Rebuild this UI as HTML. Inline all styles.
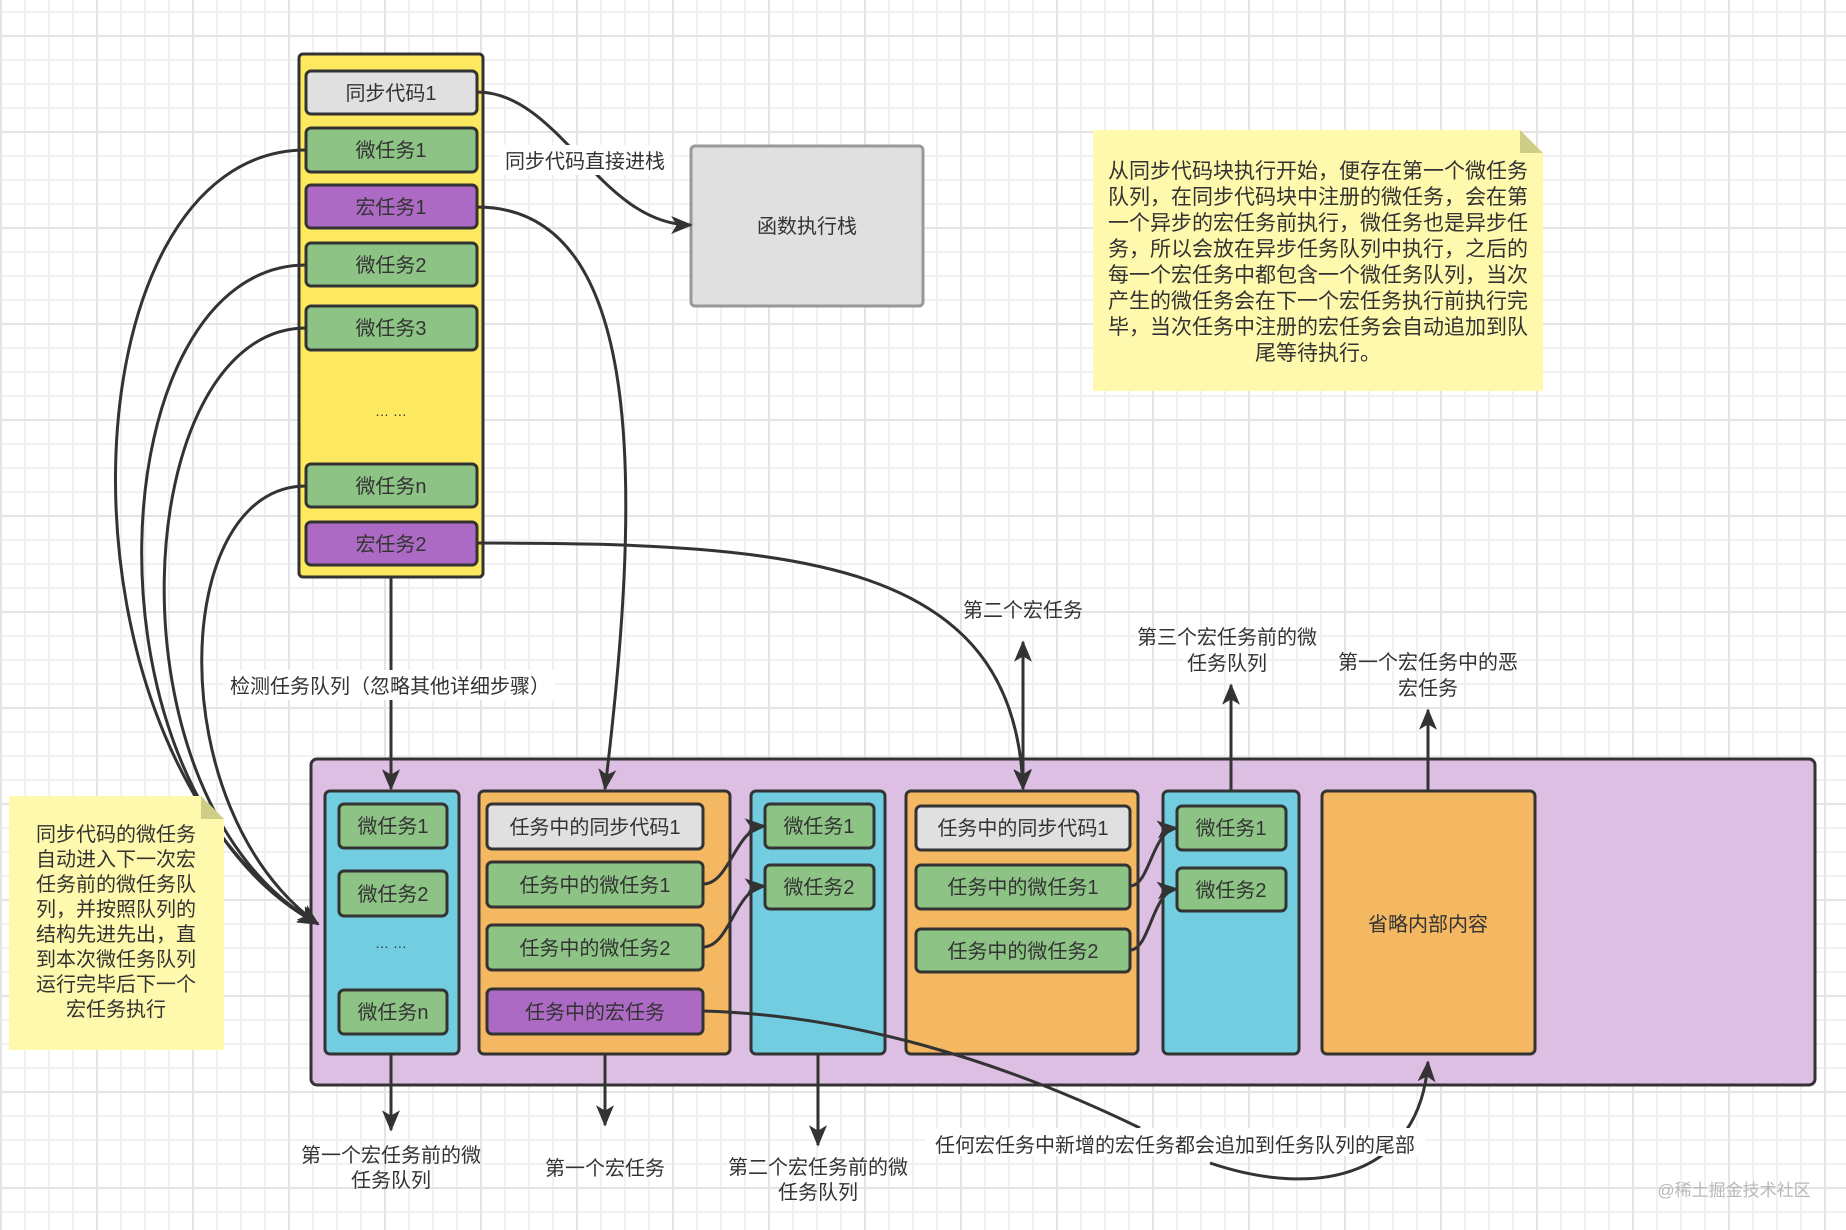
<!DOCTYPE html>
<html><head><meta charset="utf-8"><style>
html,body{margin:0;padding:0;}
body{width:1846px;height:1230px;overflow:hidden;background:#fff;
background-image:
linear-gradient(to right,#e4e4e4 2px,transparent 2px),
linear-gradient(to bottom,#e4e4e4 2px,transparent 2px),
linear-gradient(to right,#f1f1f1 2px,transparent 2px),
linear-gradient(to bottom,#f1f1f1 2px,transparent 2px);
background-size:96px 96px,96px 96px,24px 24px,24px 24px;
background-position:0px 0px,0px 35px,0px 0px,0px 11px;}
svg{position:absolute;left:0;top:0;}
text{font-family:"Liberation Sans","Noto Sans CJK SC",sans-serif;fill:#333;}
</style></head><body>
<svg width="1846" height="1230" viewBox="0 0 1846 1230">
<defs>
<marker id="ar" viewBox="0 0 12 10" refX="11" refY="5" markerWidth="22" markerHeight="18" orient="auto-start-reverse" markerUnits="userSpaceOnUse"><path d="M0,0 L12,5 L0,10 L3,5 Z" fill="#333"/></marker>
</defs>
<!-- yellow container -->
<rect x="299" y="54" width="184" height="523" rx="4" fill="#fde95f" stroke="#333" stroke-width="3"/>
<g stroke="#333" stroke-width="3">
<rect x="306" y="71" width="171" height="43" rx="5" fill="#e0e0e0"/>
<rect x="306" y="128" width="171" height="44" rx="5" fill="#8dc486"/>
<rect x="306" y="185" width="171" height="43" rx="5" fill="#ad6ac4"/>
<rect x="306" y="243" width="171" height="43" rx="5" fill="#8dc486"/>
<rect x="306" y="306" width="171" height="44" rx="5" fill="#8dc486"/>
<rect x="306" y="464" width="171" height="43" rx="5" fill="#8dc486"/>
<rect x="306" y="522" width="171" height="43" rx="5" fill="#ad6ac4"/>
</g>
<g font-size="20" text-anchor="middle">
<text x="391" y="100">同步代码1</text>
<text x="391" y="157">微任务1</text>
<text x="391" y="214">宏任务1</text>
<text x="391" y="272">微任务2</text>
<text x="391" y="335">微任务3</text>
<text x="391" y="416" font-size="14">… …</text>
<text x="391" y="493">微任务n</text>
<text x="391" y="551">宏任务2</text>
</g>
<!-- function stack -->
<rect x="691" y="146" width="232" height="160" rx="4" fill="#e0e0e0" stroke="#999" stroke-width="3"/>
<text x="807" y="233" font-size="20" text-anchor="middle">函数执行栈</text>
<!-- big purple -->
<rect x="311" y="759" width="1504" height="326" rx="6" fill="#dcbfe3" stroke="#333" stroke-width="3"/>
<g stroke="#333" stroke-width="3">
<rect x="325" y="791" width="134" height="263" rx="5" fill="#71cddf"/>
<rect x="479" y="791" width="251" height="263" rx="5" fill="#f4b862"/>
<rect x="751" y="791" width="134" height="263" rx="5" fill="#71cddf"/>
<rect x="906" y="791" width="232" height="263" rx="5" fill="#f4b862"/>
<rect x="1163" y="791" width="136" height="263" rx="5" fill="#71cddf"/>
<rect x="1322" y="791" width="213" height="263" rx="5" fill="#f4b862"/>
<rect x="339" y="804" width="108" height="44" rx="5" fill="#8dc486"/>
<rect x="339" y="871" width="108" height="45" rx="5" fill="#8dc486"/>
<rect x="339" y="990" width="108" height="44" rx="5" fill="#8dc486"/>
<rect x="487" y="804" width="216" height="45" rx="5" fill="#e0e0e0"/>
<rect x="487" y="862" width="216" height="45" rx="5" fill="#8dc486"/>
<rect x="487" y="925" width="216" height="45" rx="5" fill="#8dc486"/>
<rect x="487" y="989" width="216" height="45" rx="5" fill="#ad6ac4"/>
<rect x="765" y="804" width="109" height="44" rx="5" fill="#8dc486"/>
<rect x="765" y="865" width="109" height="44" rx="5" fill="#8dc486"/>
<rect x="916" y="806" width="214" height="44" rx="5" fill="#e0e0e0"/>
<rect x="916" y="865" width="214" height="44" rx="5" fill="#8dc486"/>
<rect x="916" y="929" width="214" height="43" rx="5" fill="#8dc486"/>
<rect x="1177" y="806" width="109" height="44" rx="5" fill="#8dc486"/>
<rect x="1177" y="868" width="109" height="43" rx="5" fill="#8dc486"/>
</g>
<g font-size="20" text-anchor="middle">
<text x="393" y="833">微任务1</text>
<text x="393" y="901">微任务2</text>
<text x="391" y="948" font-size="14">… …</text>
<text x="393" y="1019">微任务n</text>
<text x="595" y="834">任务中的同步代码1</text>
<text x="595" y="892">任务中的微任务1</text>
<text x="595" y="955">任务中的微任务2</text>
<text x="595" y="1019">任务中的宏任务</text>
<text x="819" y="833">微任务1</text>
<text x="819" y="894">微任务2</text>
<text x="1023" y="835">任务中的同步代码1</text>
<text x="1023" y="894">任务中的微任务1</text>
<text x="1023" y="958">任务中的微任务2</text>
<text x="1231" y="835">微任务1</text>
<text x="1231" y="897">微任务2</text>
<text x="1428" y="931">省略内部内容</text>
</g>
<!-- connectors on top -->
<g fill="none" stroke="#333" stroke-width="3">
<path d="M306,150 C60,150 40,760 318,924" marker-end="url(#ar)"/>
<path d="M306,265 C100,265 70,790 318,924" marker-end="url(#ar)"/>
<path d="M306,328 C130,328 100,800 318,924" marker-end="url(#ar)"/>
<path d="M306,486 C170,486 160,810 318,924" marker-end="url(#ar)"/>
<path d="M477,92 C560,92 600,225 691,225" marker-end="url(#ar)"/>
<path d="M477,207 C650,207 640,500 605,789" marker-end="url(#ar)"/>
<path d="M477,543 C800,543 1015,560 1023,789" marker-end="url(#ar)"/>
<path d="M391,577 L391,789" marker-end="url(#ar)"/>
<path d="M1023,789 L1023,642" marker-end="url(#ar)" marker-start="url(#ar)"/>
<path d="M1231,791 L1231,685" marker-end="url(#ar)"/>
<path d="M1428,791 L1428,710" marker-end="url(#ar)"/>
<path d="M391,1054 L391,1130" marker-end="url(#ar)"/>
<path d="M605,1054 L605,1125" marker-end="url(#ar)"/>
<path d="M818,1054 L818,1145" marker-end="url(#ar)"/>
<path d="M703,884 C730,884 735,828 765,826" marker-end="url(#ar)"/>
<path d="M703,947 C730,947 735,888 765,886" marker-end="url(#ar)"/>
<path d="M1130,886 C1150,886 1152,830 1177,828" marker-end="url(#ar)"/>
<path d="M1130,950 C1150,950 1152,891 1177,889" marker-end="url(#ar)"/>
<path d="M703,1011 C850,1015 1000,1060 1140,1128"/>
<path d="M1210,1163 C1320,1200 1420,1175 1428,1062" marker-end="url(#ar)"/>
</g>
<!-- labels -->
<rect x="500" y="145" width="170" height="30" fill="#fff"/>
<text x="585" y="168" font-size="20" text-anchor="middle">同步代码直接进栈</text>
<rect x="225" y="670" width="330" height="30" fill="#fff"/>
<rect x="925" y="1128" width="500" height="28" fill="#fff"/>
<g font-size="20" text-anchor="middle">
<text x="390" y="693">检测任务队列（忽略其他详细步骤）</text>
<text x="1023" y="617">第二个宏任务</text>
<text x="1227" y="644">第三个宏任务前的微</text>
<text x="1227" y="670">任务队列</text>
<text x="1428" y="669">第一个宏任务中的恶</text>
<text x="1428" y="695">宏任务</text>
<text x="391" y="1162">第一个宏任务前的微</text>
<text x="391" y="1187">任务队列</text>
<text x="605" y="1175">第一个宏任务</text>
<text x="818" y="1174">第二个宏任务前的微</text>
<text x="818" y="1199">任务队列</text>
<text x="1175" y="1152">任何宏任务中新增的宏任务都会追加到任务队列的尾部</text>
<text x="1734" y="1196" font-size="17" style="fill:#b8b8b8">@稀土掘金技术社区</text>
</g>
<!-- top-right note -->
<path d="M1093,130 L1520,130 L1543,153 L1543,391 L1093,391 Z" fill="#fff9ad"/>
<path d="M1520,130 L1543,153 L1520,153 Z" fill="#cfcd86"/>
<g font-size="21" text-anchor="middle">
<text x="1318" y="178">从同步代码块执行开始，便存在第一个微任务</text>
<text x="1318" y="204">队列，在同步代码块中注册的微任务，会在第</text>
<text x="1318" y="230">一个异步的宏任务前执行，微任务也是异步任</text>
<text x="1318" y="256">务，所以会放在异步任务队列中执行，之后的</text>
<text x="1318" y="282">每一个宏任务中都包含一个微任务队列，当次</text>
<text x="1318" y="308">产生的微任务会在下一个宏任务执行前执行完</text>
<text x="1318" y="334">毕，当次任务中注册的宏任务会自动追加到队</text>
<text x="1318" y="360">尾等待执行。</text>
</g>
<!-- left note -->
<path d="M9,796 L201,796 L224,819 L224,1050 L9,1050 Z" fill="#fff9ad"/>
<path d="M201,796 L224,819 L201,819 Z" fill="#cfcd86"/>
<g font-size="20" text-anchor="middle">
<text x="116" y="841">同步代码的微任务</text>
<text x="116" y="866">自动进入下一次宏</text>
<text x="116" y="891">任务前的微任务队</text>
<text x="116" y="916">列，并按照队列的</text>
<text x="116" y="941">结构先进先出，直</text>
<text x="116" y="966">到本次微任务队列</text>
<text x="116" y="991">运行完毕后下一个</text>
<text x="116" y="1016">宏任务执行</text>
</g>
</svg>
</body></html>
